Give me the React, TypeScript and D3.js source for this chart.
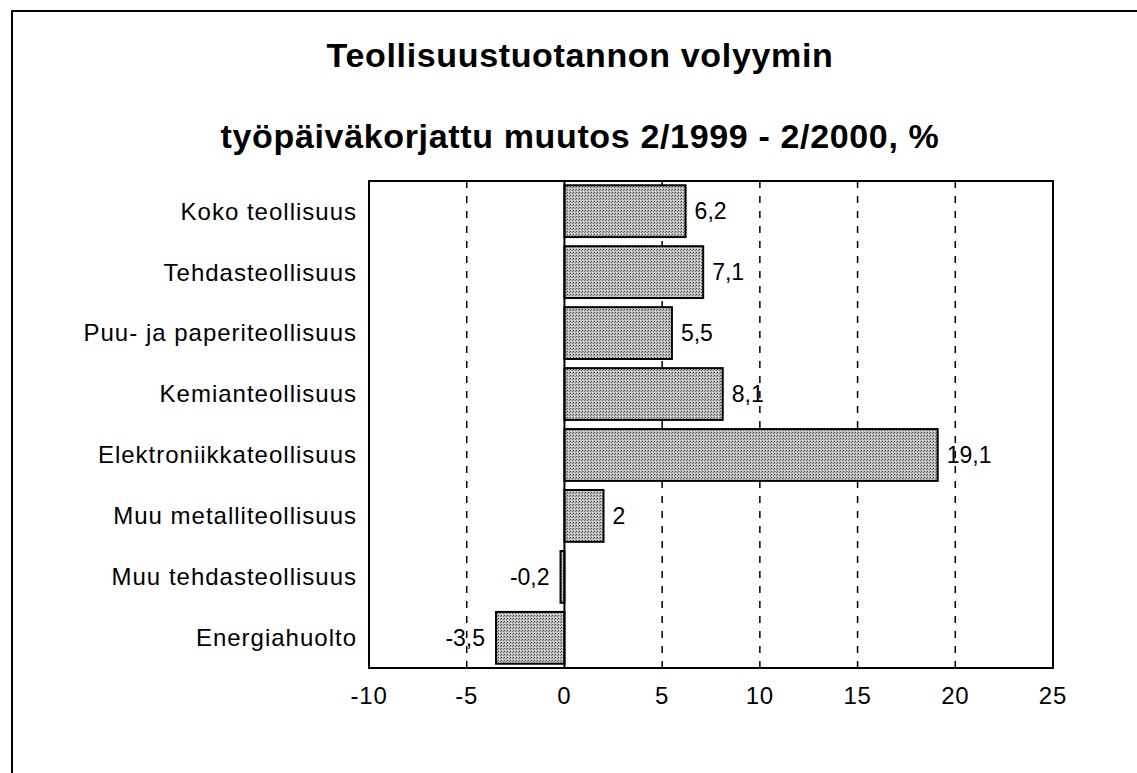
import React, { useEffect, useRef } from 'react';
import * as d3 from 'd3';

const categories = [
  'Koko teollisuus',
  'Tehdasteollisuus',
  'Puu- ja paperiteollisuus',
  'Kemianteollisuus',
  'Elektroniikkateollisuus',
  'Muu metalliteollisuus',
  'Muu tehdasteollisuus',
  'Energiahuolto',
];
const values = [6.2, 7.1, 5.5, 8.1, 19.1, 2, -0.2, -3.5];
const xTicks = [-10, -5, 0, 5, 10, 15, 20, 25];
const gridTicks = [-5, 5, 10, 15, 20];
const titleLines = [
  'Teollisuustuotannon volyymin',
  'työpäiväkorjattu muutos 2/1999 - 2/2000, %',
];

const W = 1137;
const H = 773;
const FONT = '"Liberation Sans", Arial, sans-serif';

export default function App() {
  const svgRef = useRef<SVGSVGElement>(null);

  useEffect(() => {
    if (!svgRef.current) return;
    const svg = d3.select(svgRef.current);
    svg.selectAll('*').remove();

    const plot = { left: 369, right: 1053, top: 181, bottom: 668 };

    const x = d3.scaleLinear().domain([-10, 25]).range([plot.left, plot.right]);
    const y = d3.scaleBand<string>()
      .domain(categories)
      .range([plot.top, plot.bottom])
      .paddingInner(0.15)
      .paddingOuter(0.07);

    // stippled fill for bars
    const defs = svg.append('defs');
    const pat = defs.append('pattern')
      .attr('id', 'stipple')
      .attr('width', 3)
      .attr('height', 3)
      .attr('patternUnits', 'userSpaceOnUse');
    pat.append('rect').attr('width', 3).attr('height', 3).attr('fill', '#bdbdbd');
    pat.append('rect').attr('x', 0).attr('y', 0).attr('width', 1).attr('height', 1).attr('fill', '#444');
    pat.append('rect').attr('x', 2).attr('y', 1).attr('width', 1).attr('height', 1).attr('fill', '#6e6e6e');
    pat.append('rect').attr('x', 1).attr('y', 2).attr('width', 1).attr('height', 1).attr('fill', '#e4e4e4');

    svg.append('rect').attr('width', W).attr('height', H).attr('fill', '#fff');

    // outer frame (only top and left visible)
    svg.append('path')
      .attr('d', `M12,${H} L12,11 L${W},11`)
      .attr('fill', 'none')
      .attr('stroke', '#000')
      .attr('stroke-width', 2);

    // title
    svg.selectAll('.title')
      .data(titleLines)
      .join('text')
      .attr('x', 580)
      .attr('y', (_, i) => 67 + i * 81)
      .attr('text-anchor', 'middle')
      .attr('font-family', FONT)
      .attr('font-weight', 'bold')
      .attr('font-size', 34)
      .attr('letter-spacing', 0.65)
      .text(d => d);

    // dashed grid
    svg.selectAll('.grid')
      .data(gridTicks)
      .join('line')
      .attr('x1', d => x(d))
      .attr('x2', d => x(d))
      .attr('y1', plot.top)
      .attr('y2', plot.bottom)
      .attr('stroke', '#000')
      .attr('stroke-width', 1.5)
      .attr('stroke-dasharray', '7,8');

    // bars
    svg.selectAll('.bar')
      .data(values)
      .join('rect')
      .attr('x', d => x(Math.min(0, d)))
      .attr('y', (_, i) => y(categories[i])!)
      .attr('width', d => Math.abs(x(d) - x(0)))
      .attr('height', y.bandwidth())
      .attr('fill', 'url(#stipple)')
      .attr('stroke', '#000')
      .attr('stroke-width', 2);

    // zero line
    svg.append('line')
      .attr('x1', x(0))
      .attr('x2', x(0))
      .attr('y1', plot.top)
      .attr('y2', plot.bottom)
      .attr('stroke', '#000')
      .attr('stroke-width', 2);

    // plot frame
    svg.append('rect')
      .attr('x', plot.left)
      .attr('y', plot.top)
      .attr('width', plot.right - plot.left)
      .attr('height', plot.bottom - plot.top)
      .attr('fill', 'none')
      .attr('stroke', '#000')
      .attr('stroke-width', 2);

    // value labels
    svg.selectAll('.val')
      .data(values)
      .join('text')
      .attr('x', d => (d >= 0 ? x(d) + 9 : x(d) - 11))
      .attr('y', (_, i) => y(categories[i])! + y.bandwidth() / 2)
      .attr('dy', '0.35em')
      .attr('text-anchor', d => (d >= 0 ? 'start' : 'end'))
      .attr('font-family', FONT)
      .attr('font-size', 23)
      .text(d => String(d).replace('.', ','));

    // category labels
    svg.selectAll('.cat')
      .data(categories)
      .join('text')
      .attr('x', plot.left - 12)
      .attr('y', d => y(d)! + y.bandwidth() / 2)
      .attr('dy', '0.35em')
      .attr('text-anchor', 'end')
      .attr('font-family', FONT)
      .attr('font-size', 24)
      .attr('letter-spacing', 1)
      .text(d => d);

    // x tick labels
    svg.selectAll('.tick')
      .data(xTicks)
      .join('text')
      .attr('x', d => x(d))
      .attr('y', 704)
      .attr('text-anchor', 'middle')
      .attr('font-family', FONT)
      .attr('font-size', 24)
      .attr('letter-spacing', 0.8)
      .text(d => String(d));
  }, []);

  return (
    <svg
      ref={svgRef}
      width={W}
      height={H}
      style={{ position: 'absolute', top: 0, left: 0, display: 'block' }}
    />
  );
}
